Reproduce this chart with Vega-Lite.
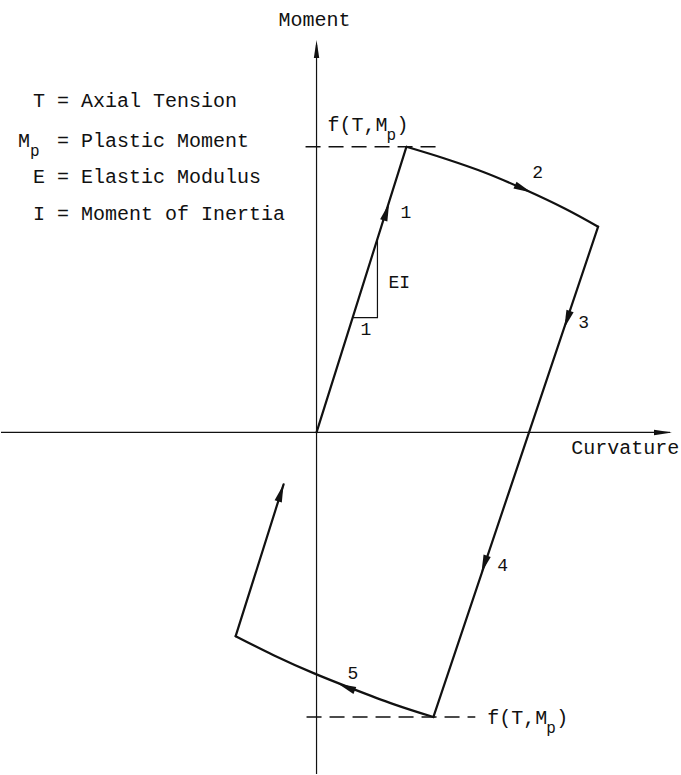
{
  "$schema": "https://vega.github.io/schema/vega-lite/v6.json",
  "width": 681,
  "height": 775,
  "padding": 0,
  "autosize": {"type": "fit", "contains": "padding"},
  "background": "white",
  "config": {"view": {"stroke": null}},
  "datasets": {
    "path": [
      {"seg": "elastic loading", "step": 1, "x": 0.0, "y": 0.0},
      {"seg": "elastic loading", "step": 2, "x": 0.90, "y": 2.86},
      {"seg": "plastic 1", "step": 2, "x": 0.90, "y": 2.86},
      {"seg": "plastic 1", "step": 3, "x": 1.29, "y": 2.74},
      {"seg": "plastic 1", "step": 4, "x": 1.69, "y": 2.60},
      {"seg": "plastic 1", "step": 5, "x": 2.09, "y": 2.43},
      {"seg": "plastic 1", "step": 6, "x": 2.49, "y": 2.24},
      {"seg": "plastic 1", "step": 7, "x": 2.82, "y": 2.06},
      {"seg": "elastic unloading", "step": 7, "x": 2.82, "y": 2.06},
      {"seg": "elastic unloading", "step": 8, "x": 1.17, "y": -2.85},
      {"seg": "plastic 2", "step": 8, "x": 1.17, "y": -2.85},
      {"seg": "plastic 2", "step": 9, "x": 0.77, "y": -2.72},
      {"seg": "plastic 2", "step": 10, "x": 0.37, "y": -2.57},
      {"seg": "plastic 2", "step": 11, "x": -0.03, "y": -2.41},
      {"seg": "plastic 2", "step": 12, "x": -0.43, "y": -2.23},
      {"seg": "plastic 2", "step": 13, "x": -0.81, "y": -2.04},
      {"seg": "elastic reloading", "step": 13, "x": -0.81, "y": -2.04},
      {"seg": "elastic reloading", "step": 14, "x": -0.33, "y": -0.52}
    ],
    "axes": [
      {"x": 0, "y": -3.42, "x2": 0, "y2": 3.88},
      {"x": -3.16, "y": 0, "x2": 3.54, "y2": 0}
    ],
    "limits": [
      {"x": -0.11, "y": 2.86, "x2": 1.24, "y2": 2.86},
      {"x": -0.10, "y": -2.85, "x2": 1.59, "y2": -2.85}
    ],
    "slope": [
      {"k": 1, "x": 0.36, "y": 1.15},
      {"k": 2, "x": 0.61, "y": 1.15},
      {"k": 3, "x": 0.61, "y": 1.94}
    ],
    "axisHeads": [
      {"x": 0, "y": 3.84, "heading": 0},
      {"x": 3.47, "y": 0, "heading": 90}
    ],
    "loadHeads": [
      {"x": 0.70, "y": 2.21, "heading": 17.5},
      {"x": 2.07, "y": 2.44, "heading": 114},
      {"x": 2.51, "y": 1.13, "heading": 198.6},
      {"x": 1.68, "y": -1.32, "heading": 198.6},
      {"x": 0.30, "y": -2.55, "heading": 291.7},
      {"x": -0.357, "y": -0.605, "heading": 17.4}
    ],
    "labels": [
      {"x": -0.38, "y": 4.07, "text": "Moment", "kind": "main"},
      {"x": 2.55, "y": -0.22, "text": "Curvature", "kind": "main"},
      {"x": -2.84, "y": 3.26, "text": "T = Axial Tension", "kind": "main"},
      {"x": -2.99, "y": 2.86, "text": "M", "kind": "main"},
      {"x": -2.87, "y": 2.77, "text": "p", "kind": "sub"},
      {"x": -2.60, "y": 2.86, "text": "= Plastic Moment", "kind": "main"},
      {"x": -2.84, "y": 2.50, "text": "E = Elastic Modulus", "kind": "main"},
      {"x": -2.84, "y": 2.13, "text": "I = Moment of Inertia", "kind": "main"},
      {"x": 0.11, "y": 3.02, "text": "f(T,M", "kind": "main"},
      {"x": 0.70, "y": 2.93, "text": "p", "kind": "sub"},
      {"x": 0.80, "y": 3.02, "text": ")", "kind": "main"},
      {"x": 1.71, "y": -2.92, "text": "f(T,M", "kind": "main"},
      {"x": 2.30, "y": -3.01, "text": "p", "kind": "sub"},
      {"x": 2.40, "y": -2.92, "text": ")", "kind": "main"},
      {"x": 0.84, "y": 2.15, "text": "1", "kind": "num"},
      {"x": 2.16, "y": 2.55, "text": "2", "kind": "num"},
      {"x": 2.62, "y": 1.05, "text": "3", "kind": "num"},
      {"x": 1.81, "y": -1.39, "text": "4", "kind": "num"},
      {"x": 0.31, "y": -2.47, "text": "5", "kind": "num"},
      {"x": 0.72, "y": 1.45, "text": "EI", "kind": "num"},
      {"x": 0.44, "y": 0.98, "text": "1", "kind": "num"}
    ]
  },
  "encoding": {
    "x": {"field": "x", "type": "quantitative", "axis": null,
          "scale": {"domain": [-3.16, 3.65], "nice": false, "zero": false}},
    "y": {"field": "y", "type": "quantitative", "axis": null,
          "scale": {"domain": [-3.42, 4.33], "nice": false, "zero": false}}
  },
  "layer": [
    {
      "data": {"name": "axes"},
      "mark": {"type": "rule", "color": "#111", "strokeWidth": 1.2},
      "encoding": {"x2": {"field": "x2"}, "y2": {"field": "y2"}}
    },
    {
      "data": {"name": "limits"},
      "mark": {"type": "rule", "color": "#111", "strokeWidth": 1.4, "strokeDash": [15, 8]},
      "encoding": {"x2": {"field": "x2"}, "y2": {"field": "y2"}}
    },
    {
      "data": {"name": "slope"},
      "mark": {"type": "line", "color": "#111", "strokeWidth": 1.2},
      "encoding": {"order": {"field": "k", "type": "quantitative"}}
    },
    {
      "data": {"name": "path"},
      "mark": {"type": "line", "color": "#111", "strokeWidth": 2.2,
               "strokeCap": "round", "interpolate": "cardinal"},
      "encoding": {
        "detail": {"field": "seg", "type": "nominal"},
        "order": {"field": "step", "type": "quantitative"}
      }
    },
    {
      "data": {"name": "axisHeads"},
      "mark": {"type": "point", "shape": "M0,-1L0.3,1L-0.3,1Z", "filled": true,
               "color": "#111", "opacity": 1, "size": 324},
      "encoding": {"angle": {"field": "heading", "type": "quantitative", "scale": null}}
    },
    {
      "data": {"name": "loadHeads"},
      "mark": {"type": "point", "shape": "M0,-1L0.42,1L-0.42,1Z", "filled": true,
               "color": "#111", "opacity": 1, "size": 324},
      "encoding": {"angle": {"field": "heading", "type": "quantitative", "scale": null}}
    },
    {
      "data": {"name": "labels"},
      "transform": [{"filter": "datum.kind === 'main'"}],
      "mark": {"type": "text", "font": "Liberation Mono", "fontSize": 20,
               "align": "left", "baseline": "alphabetic", "color": "#111"},
      "encoding": {"text": {"field": "text"}}
    },
    {
      "data": {"name": "labels"},
      "transform": [{"filter": "datum.kind === 'sub'"}],
      "mark": {"type": "text", "font": "Liberation Mono", "fontSize": 16,
               "align": "left", "baseline": "alphabetic", "color": "#111"},
      "encoding": {"text": {"field": "text"}}
    },
    {
      "data": {"name": "labels"},
      "transform": [{"filter": "datum.kind === 'num'"}],
      "mark": {"type": "text", "font": "Liberation Mono", "fontSize": 18,
               "align": "left", "baseline": "alphabetic", "color": "#111"},
      "encoding": {"text": {"field": "text"}}
    }
  ]
}
